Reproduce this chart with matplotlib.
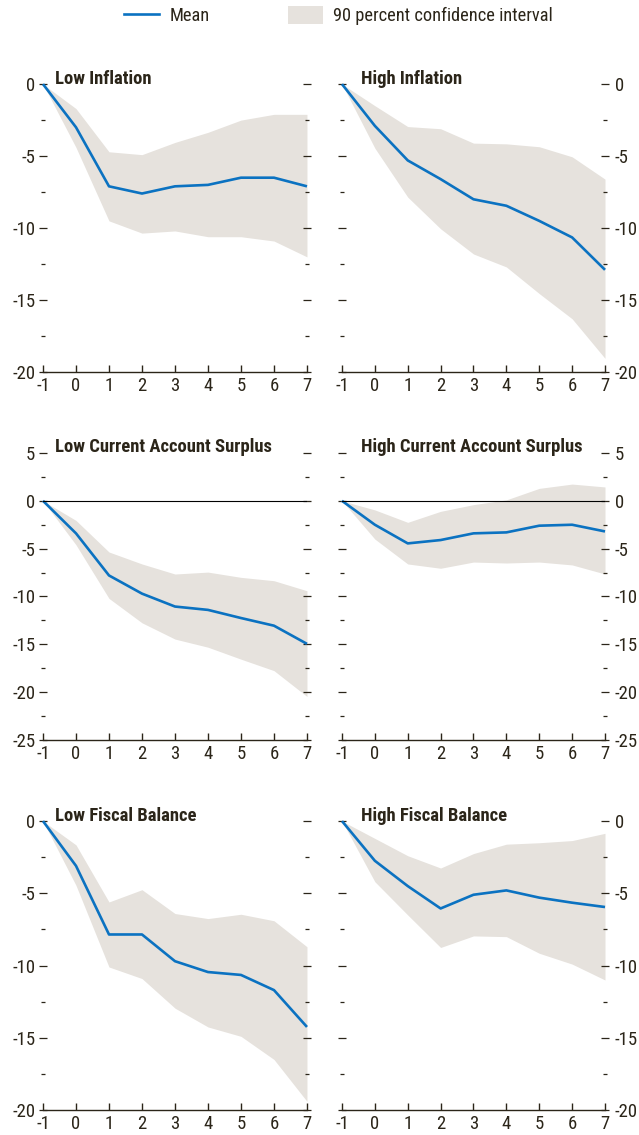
import matplotlib
matplotlib.use("Agg")
import matplotlib.pyplot as plt
from matplotlib.ticker import MultipleLocator
from matplotlib.lines import Line2D
from matplotlib.patches import Patch

plt.rcParams['font.family'] = ['Roboto Condensed', 'DejaVu Sans']
plt.rcParams['axes.unicode_minus'] = False

horizons = [-1, 0, 1, 2, 3, 4, 5, 6, 7]

titles = ["Low Inflation", "High Inflation",
          "Low Current Account Surplus", "High Current Account Surplus",
          "Low Fiscal Balance", "High Fiscal Balance"]

low_infl_mean = [0, -3.0, -7.1, -7.6, -7.1, -7.0, -6.5, -6.5, -7.1]
low_infl_upper = [0, -1.7, -4.7, -4.9, -4.05, -3.35, -2.5, -2.1, -2.1]
low_infl_lower = [0, -4.4, -9.5, -10.35, -10.2, -10.6, -10.6, -10.9, -12.0]

high_infl_mean = [0, -2.9, -5.3, -6.6, -8.0, -8.45, -9.5, -10.65, -12.9]
high_infl_upper = [0, -1.5, -2.95, -3.1, -4.1, -4.15, -4.35, -5.05, -6.6]
high_infl_lower = [0, -4.45, -7.85, -10.05, -11.8, -12.7, -14.55, -16.3, -19.05]

low_ca_mean = [0, -3.4, -7.8, -9.7, -11.05, -11.4, -12.25, -13.05, -14.95]
low_ca_upper = [0, -2.05, -5.35, -6.6, -7.65, -7.45, -8.0, -8.35, -9.4]
low_ca_lower = [0, -4.6, -10.2, -12.75, -14.45, -15.3, -16.55, -17.75, -20.45]

high_ca_mean = [0, -2.5, -4.45, -4.1, -3.4, -3.3, -2.6, -2.5, -3.2]
high_ca_upper = [0, -0.95, -2.25, -1.1, -0.4, 0.1, 1.3, 1.75, 1.45]
high_ca_lower = [0, -4.0, -6.6, -7.05, -6.4, -6.5, -6.4, -6.7, -7.65]

low_fb_mean = [0, -3.1, -7.85, -7.85, -9.7, -10.45, -10.65, -11.7, -14.25]
low_fb_upper = [0, -1.65, -5.6, -4.75, -6.4, -6.75, -6.45, -6.9, -8.7]
low_fb_lower = [0, -4.45, -10.1, -10.9, -12.95, -14.25, -14.9, -16.5, -19.4]

high_fb_mean = [0, -2.75, -4.5, -6.05, -5.1, -4.8, -5.3, -5.65, -5.95]
high_fb_upper = [0, -1.2, -2.4, -3.25, -2.25, -1.6, -1.5, -1.35, -0.85]
high_fb_lower = [0, -4.2, -6.5, -8.75, -7.95, -8.0, -9.15, -9.9, -11.0]

means = [low_infl_mean, high_infl_mean, low_ca_mean, high_ca_mean,
         low_fb_mean, high_fb_mean]
uppers = [low_infl_upper, high_infl_upper, low_ca_upper, high_ca_upper,
          low_fb_upper, high_fb_upper]
lowers = [low_infl_lower, high_infl_lower, low_ca_lower, high_ca_lower,
          low_fb_lower, high_fb_lower]
ylims = [(-20, 0), (-20, 0), (-25, 5), (-25, 5), (-20, 0), (-20, 0)]

blue = '#0b72c1'
band = '#e6e2dd'
ink = '#2b2519'

fig = plt.figure(figsize=(6.39, 11.35), dpi=100)

col_x = [0.0673, 0.5352]
col_w = [0.4131, 0.4116]
row_y = [0.6722, 0.348, 0.022]
row_h = [0.2537, 0.2529, 0.2546]
title_x = [0.045, 0.072]

for i in range(6):
    r, c = i // 2, i % 2
    ax = fig.add_axes([col_x[c], row_y[r], col_w[c], row_h[r]])
    ax.fill_between(horizons, lowers[i], uppers[i], color=band, lw=0,
                    clip_on=False)
    ax.plot(horizons, means[i], color=blue, lw=1.9, clip_on=False,
            solid_capstyle='butt')
    if ylims[i][1] > 0:
        ax.axhline(0, color='black', lw=0.8)
    ax.set_xlim(-1, 7)
    ax.set_ylim(*ylims[i])
    ax.xaxis.set_major_locator(MultipleLocator(1))
    ax.yaxis.set_major_locator(MultipleLocator(5))
    ax.yaxis.set_minor_locator(MultipleLocator(2.5))
    for s in ['top', 'left', 'right']:
        ax.spines[s].set_visible(False)
    ax.spines['bottom'].set_color(ink)
    ax.spines['bottom'].set_linewidth(1.0)
    ax.tick_params(axis='x', direction='in', length=5, width=1.0,
                   color=ink, labelcolor=ink, labelsize=13.5, pad=3.5)
    if c == 0:
        ax.tick_params(axis='y', which='both', left=True, right=True,
                       labelleft=True, labelright=False)
    else:
        ax.tick_params(axis='y', which='both', left=True, right=True,
                       labelleft=False, labelright=True)
    ax.tick_params(axis='y', which='major', direction='inout', length=6,
                   width=0.9, color=ink, labelcolor=ink, labelsize=13.5,
                   pad=2.5 if c == 0 else 4)
    ax.tick_params(axis='y', which='minor', direction='inout', length=3,
                   width=0.9, color=ink)
    ax.annotate(titles[i], xy=(title_x[c], 1), xycoords='axes fraction',
                xytext=(0, 4), textcoords='offset points', va='center',
                ha='left', fontsize=13.4, fontweight='bold', color=ink)

handles = [Line2D([0], [0], color=blue, lw=1.9),
           Patch(facecolor=band, edgecolor='none')]
fig.legend(handles, ["Mean", "90 percent confidence interval"],
           loc='center', bbox_to_anchor=(0.53, 0.986), ncol=2, frameon=False,
           fontsize=13.2, labelcolor=ink, handlelength=1.9, handleheight=1.1,
           columnspacing=4.3, handletextpad=0.55)

fig.savefig("out.png", dpi=100)
